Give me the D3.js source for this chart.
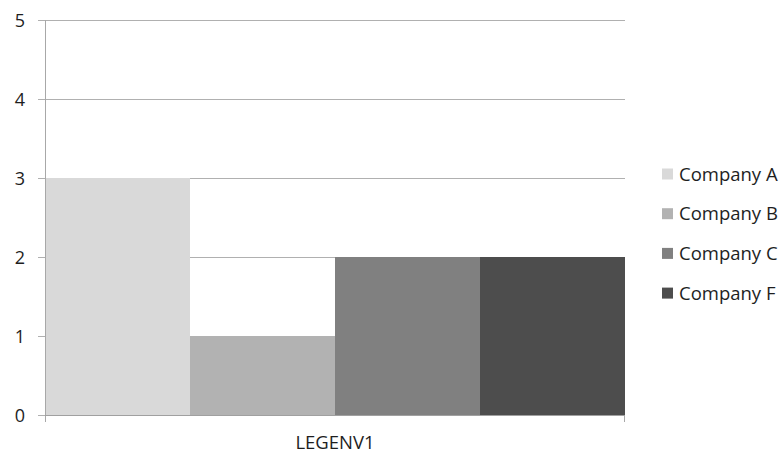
<!DOCTYPE html>
<html>
<head>
<meta charset="utf-8">
<script src="https://cdn.jsdelivr.net/npm/d3@7/dist/d3.min.js"></script>
<style>
  html, body { margin: 0; padding: 0; background: #fff; }
  svg text { font-family: "Open Sans", "Liberation Sans", sans-serif; fill: #1e1e1e; }
</style>
</head>
<body>
<svg id="chart" width="782" height="455"></svg>
<script>
// Data
const category = "LEGENV1";
const companies = ["Company A", "Company B", "Company C", "Company F"];
const values = [3, 1, 2, 2];
const colors = ["#d9d9d9", "#b2b2b2", "#808080", "#4d4d4d"];
const yTicks = [0, 1, 2, 3, 4, 5];

const svg = d3.select("#chart");
const margin = { left: 45, right: 157, top: 20, bottom: 40 };
const W = 782, H = 455;
const plotW = W - margin.left - margin.right;
const plotH = H - margin.top - margin.bottom;

const g = svg.append("g").attr("transform", `translate(${margin.left},${margin.top})`);

const y = d3.scaleLinear().domain([0, 5]).range([plotH, 0]);
const xCat = d3.scaleBand().domain([category]).range([0, plotW]).padding(0);
const xSeries = d3.scaleBand().domain(companies).range([0, xCat.bandwidth()]).padding(0);

// Horizontal gridlines
g.append("g")
  .selectAll("line")
  .data(yTicks)
  .join("line")
  .attr("x1", -7).attr("x2", plotW)
  .attr("y1", d => Math.round(y(d)) + 0.5).attr("y2", d => Math.round(y(d)) + 0.5)
  .attr("stroke", "#b0b0b0").attr("stroke-width", 1);

// Bars
g.append("g")
  .selectAll("rect")
  .data(companies.map((c, i) => ({ c, v: values[i], col: colors[i] })))
  .join("rect")
  .attr("x", d => xCat(category) + xSeries(d.c))
  .attr("width", xSeries.bandwidth())
  .attr("y", d => y(d.v))
  .attr("height", d => y(0) - y(d.v))
  .attr("fill", d => d.col);

// Y axis line
g.append("line")
  .attr("x1", 0.5).attr("x2", 0.5)
  .attr("y1", 0).attr("y2", plotH + 7)
  .attr("stroke", "#a8a8a8");
// Right category tick
g.append("line")
  .attr("x1", plotW - 0.5).attr("x2", plotW - 0.5)
  .attr("y1", plotH).attr("y2", plotH + 7)
  .attr("stroke", "#a8a8a8");
// Baseline
g.append("line")
  .attr("x1", 0).attr("x2", plotW)
  .attr("y1", Math.round(y(0)) + 0.5).attr("y2", Math.round(y(0)) + 0.5)
  .attr("stroke", "#a0a0a0");

// Y tick labels
const yAxis = d3.axisLeft(y).tickValues(yTicks).tickSize(0).tickPadding(0).tickFormat(d3.format("d"));
const ya = g.append("g").call(yAxis).attr("font-size", null).attr("font-family", null);
ya.select(".domain").remove();
ya.selectAll("text")
  .attr("x", -25)
  .attr("dy", "0.36em")
  .attr("text-anchor", "middle")
  .style("font-size", "18px")
  .attr("fill", "#1e1e1e");

// X category label
g.append("text")
  .attr("x", xCat(category) + xCat.bandwidth() / 2)
  .attr("y", plotH + 34)
  .attr("text-anchor", "middle")
  .style("font-size", "18.5px")
  .text(category);

// Legend
const legend = svg.append("g").attr("transform", "translate(662,174)");
const items = legend.selectAll("g")
  .data(companies)
  .join("g")
  .attr("transform", (d, i) => `translate(0,${i * 39.7})`);
items.append("rect")
  .attr("x", 0).attr("y", -5.5)
  .attr("width", 11).attr("height", 11)
  .attr("fill", (d, i) => colors[i]);
items.append("text")
  .attr("x", 17).attr("y", 0)
  .attr("dy", "0.36em")
  .style("font-size", "18.5px")
  .text(d => d);
</script>
</body>
</html>
